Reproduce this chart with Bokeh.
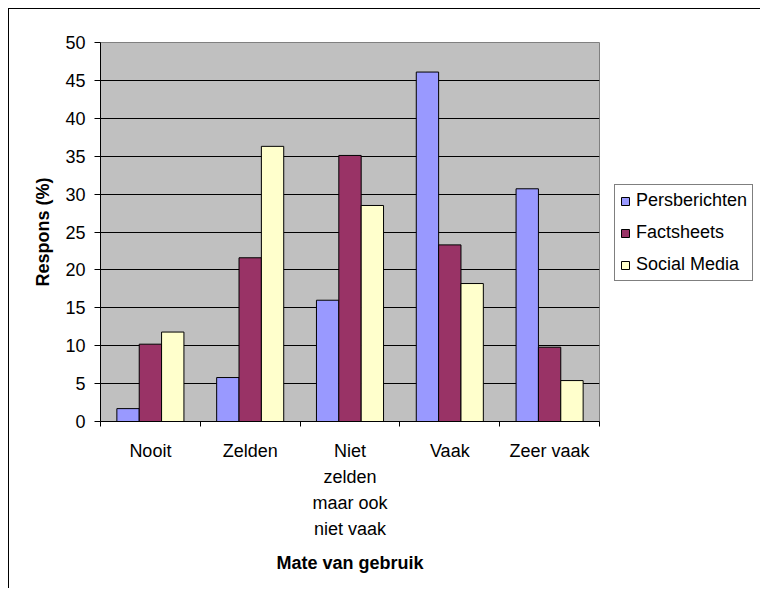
from bokeh.plotting import figure
from bokeh.models import (Range1d, FixedTicker, Legend, LegendItem, ColumnDataSource,
                          LinearAxis, Grid)
from bokeh.transform import dodge
from bokeh.embed import file_html
from bokeh.resources import INLINE

categories = ["Nooit", "Zelden", "Niet\nzelden\nmaar ook\nniet vaak", "Vaak", "Zeer vaak"]
series = ["Persberichten", "Factsheets", "Social Media"]
persberichten = [1.7, 5.8, 16.0, 46.1, 30.7]
factsheets = [10.2, 21.6, 35.1, 23.3, 9.8]
social_media = [11.8, 36.3, 28.5, 18.2, 5.4]
y_ticks = [0, 5, 10, 15, 20, 25, 30, 35, 40, 45, 50]
colors = ["#9999FF", "#993366", "#FFFFCC"]

FONT = "Liberation Sans"

centers = [i + 0.5 for i in range(len(categories))]
bounds = [float(i) for i in range(len(categories) + 1)]
source = ColumnDataSource(dict(x=centers, Persberichten=persberichten,
                               Factsheets=factsheets, **{"Social Media": social_media}))

p = figure(x_range=Range1d(0, len(categories)), y_range=Range1d(0, 50),
           frame_width=499, frame_height=379,
           min_border_left=91, min_border_top=33, min_border_right=160, min_border_bottom=167,
           output_backend="svg", toolbar_location=None,
           x_axis_type=None, y_axis_type=None)
p.styles = {"border-left": "1px solid black", "border-top": "1px solid black",
            "margin-left": "8px", "margin-top": "8px"}
p.background_fill_color = "#C0C0C0"
p.border_fill_color = "white"
p.outline_line_color = "#808080"
p.outline_line_width = 1

# axes
xaxis = LinearAxis(ticker=FixedTicker(ticks=centers, minor_ticks=bounds),
                   major_label_overrides={c: lab for c, lab in zip(centers, categories)})
xaxis.major_tick_line_color = None
xaxis.minor_tick_out = 5
xaxis.minor_tick_in = 0
xaxis.minor_tick_line_color = "black"
xaxis.axis_line_color = "black"
xaxis.major_label_text_font = FONT
xaxis.major_label_text_font_size = "18px"
xaxis.major_label_text_color = "black"
xaxis.major_label_text_line_height = 1.31
xaxis.major_label_standoff = 13
xaxis.axis_label = "Mate van gebruik"
xaxis.axis_label_text_font = FONT
xaxis.axis_label_text_font_size = "18px"
xaxis.axis_label_text_font_style = "bold"
xaxis.axis_label_text_color = "black"
xaxis.axis_label_standoff = 11
p.add_layout(xaxis, "below")

yaxis = LinearAxis(ticker=FixedTicker(ticks=y_ticks, minor_ticks=[]))
yaxis.major_tick_out = 6
yaxis.major_tick_in = 0
yaxis.major_tick_line_color = "black"
yaxis.axis_line_color = "black"
yaxis.major_label_text_font = FONT
yaxis.major_label_text_font_size = "18px"
yaxis.major_label_text_color = "black"
yaxis.major_label_standoff = 9
yaxis.axis_label = "Respons (%)"
yaxis.axis_label_text_font = FONT
yaxis.axis_label_text_font_size = "18px"
yaxis.axis_label_text_font_style = "bold"
yaxis.axis_label_text_color = "black"
yaxis.axis_label_standoff = 9
p.add_layout(yaxis, "left")

p.add_layout(Grid(dimension=1, ticker=yaxis.ticker, grid_line_color="black",
                  grid_line_width=1))

width = 0.224
offsets = [-width, 0.0, width]
items = []
for name, col, off in zip(series, colors, offsets):
    r = p.vbar(x=dodge("x", off, range=p.x_range), top=name, width=width, bottom=0,
               source=source, fill_color=col, line_color="black", line_width=1)
    items.append(LegendItem(label=name, renderers=[r]))

legend = Legend(items=items, location=(15, 140))
legend.border_line_color = "black"
legend.border_line_width = 1
legend.background_fill_color = "white"
legend.background_fill_alpha = 1
legend.label_text_font = FONT
legend.label_text_font_size = "18px"
legend.label_text_color = "black"
legend.glyph_width = 10
legend.glyph_height = 10
legend.label_height = 20
legend.label_standoff = 6
legend.padding = 5
legend.spacing = 11
legend.margin = 0
p.add_layout(legend, "right")

open("out.html", "w").write(file_html(p, INLINE))
